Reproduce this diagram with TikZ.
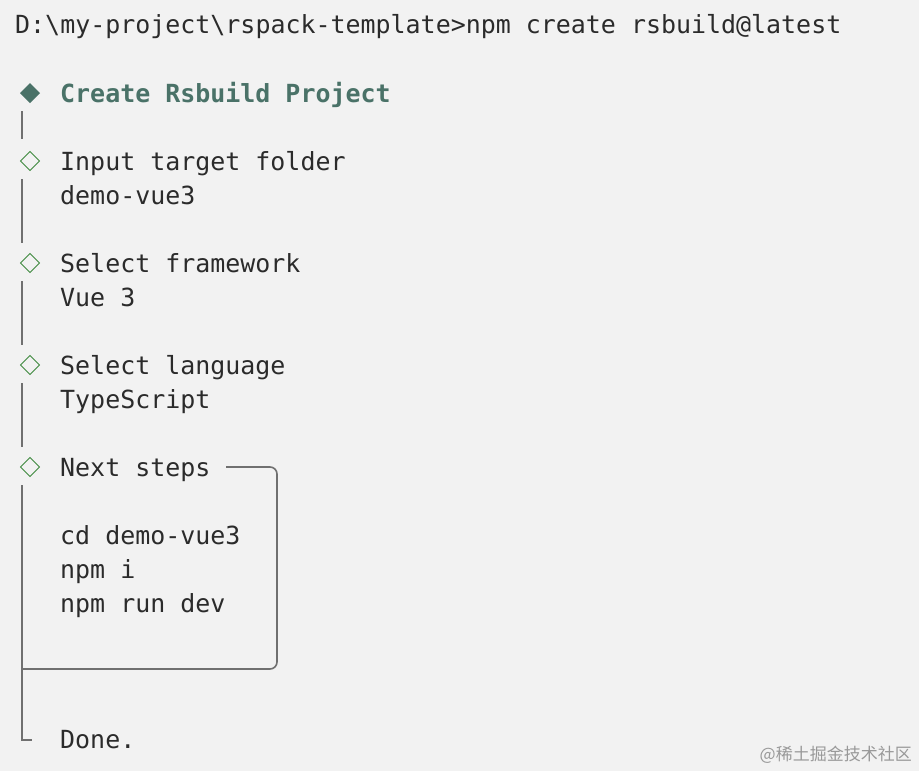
\documentclass[tikz,border=0pt]{standalone}
\usepackage{fontspec}
\setmonofont{DejaVu Sans Mono}
\newfontfamily\cjk{Noto Sans CJK SC}
\definecolor{bg}{HTML}{F2F2F2}
\definecolor{txt}{HTML}{2B2B2B}
\definecolor{ttl}{HTML}{4A7268}
\definecolor{dgreen}{HTML}{3E8A3E}
\definecolor{ln}{HTML}{707070}
\tikzset{
  term/.style={anchor=base west,inner sep=0pt,text=txt,font=\ttfamily\fontsize{24.95}{28}\selectfont},
  bar/.style={draw=ln,line width=1.6pt},
  hollow/.style={draw=dgreen,line width=1pt,fill=bg},
}
\begin{document}
\begin{tikzpicture}[x=1pt,y=-1pt]
\fill[bg] (0,0) rectangle (919,771);
\useasboundingbox (0,0) rectangle (919,771);
\node[term] (cmd) at (15,34) {D:\textbackslash my-project\textbackslash rspack-template>npm create rsbuild@latest};
\fill[ttl] (30,83) -- (40,93) -- (30,103) -- (20,93) -- cycle;
\node[term,text=ttl,font=\ttfamily\bfseries\fontsize{24.95}{28}\selectfont] (title) at (60,102) {Create Rsbuild Project};
\foreach \y/\n in {161/a,263/b,365/c,467/d}{
  \draw[hollow] (30,\y-9.5) -- (39.5,\y) -- (30,\y+9.5) -- (20.5,\y) -- cycle;
  \coordinate (d\n) at (30,\y);
}
\node[term] (l1) at (60,170) {Input target folder};
\node[term] (l2) at (60,204) {demo-vue3};
\node[term] (l3) at (60,272) {Select framework};
\node[term] (l4) at (60,306) {Vue 3};
\node[term] (l5) at (60,374) {Select language};
\node[term] (l6) at (60,408) {TypeScript};
\node[term] (l7) at (60,476) {Next steps};
\node[term] (l8) at (60,544) {cd demo-vue3};
\node[term] (l9) at (60,578) {npm i};
\node[term] (l10) at (60,612) {npm run dev};
\node[term] (done) at (60,748) {Done.};
\draw[bar] (22,111) -- (22,139);
\draw[bar] (22,179) -- (22,243);
\draw[bar] (22,281) -- (22,345);
\draw[bar] (22,383) -- (22,447);
\draw[bar] (22,485) -- (22,740) -- (32,740);
\draw[bar,rounded corners=7pt] (226,467) -- (277,467) -- (277,669) -- (22,669);
\node[anchor=base east,inner sep=0pt,text=black!40,font=\cjk\fontsize{17}{20}\selectfont] (wm) at (912,760) {@稀土掘金技术社区};
\end{tikzpicture}
\end{document}
